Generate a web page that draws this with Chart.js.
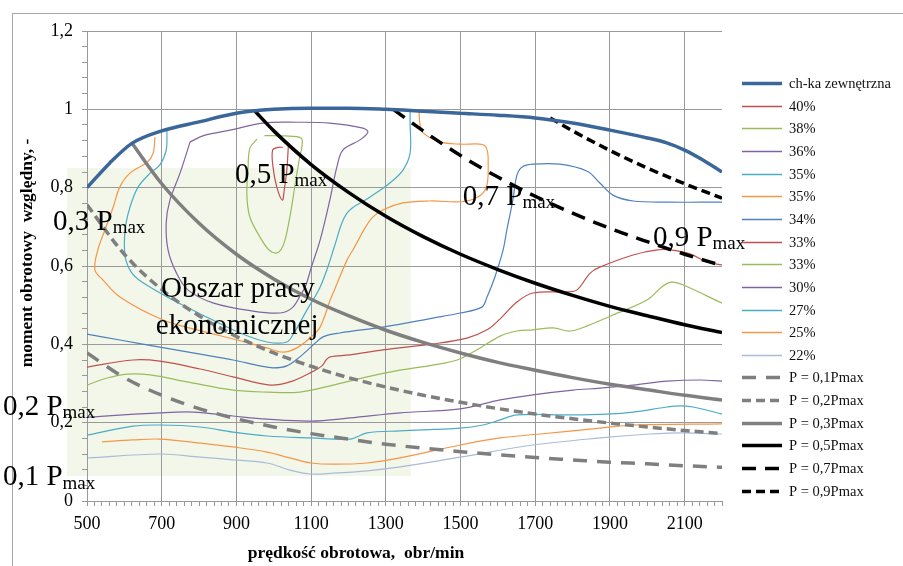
<!DOCTYPE html>
<html lang="pl">
<head>
<meta charset="utf-8">
<title>Mapa sprawności silnika</title>
<script src="https://cdn.jsdelivr.net/npm/chart.js@4.4.1/dist/chart.umd.min.js"></script>
<style>
  html, body { margin: 0; padding: 0; background: #fff; overflow: hidden; }
  #wrap { position: relative; width: 903px; height: 566px; }
</style>
</head>
<body>
<div id="wrap"><canvas id="mapa"></canvas></div>
<script>
// --- dane: prędkość obrotowa [obr/min], moment względny [-] ---
const nazwySerii = ['ch-ka zewnętrzna', '40%', '38%', '36%', '35%', '35%', '34%', '33%', '33%', '30%', '27%', '25%', '22%',
  'P = 0,1Pmax', 'P = 0,2Pmax', 'P = 0,3Pmax', 'P = 0,5Pmax', 'P = 0,7Pmax', 'P = 0,9Pmax'];

const chkaZewnetrzna = [[500, 0.80], [560, 0.862], [620, 0.913], [700, 0.945], [800, 0.968], [900, 0.99], [1000, 1.0], [1100, 1.003],
  [1200, 1.003], [1300, 1.0], [1400, 0.995], [1500, 0.99], [1600, 0.985], [1700, 0.978], [1800, 0.965], [1900, 0.947],
  [2000, 0.927], [2050, 0.915], [2100, 0.896], [2150, 0.87], [2200, 0.84]];

const iso40 = [[1024, 0.903], [1012, 0.903], [997, 0.896], [998, 0.853], [1008, 0.802], [1023, 0.768], [1028, 0.794], [1035, 0.845], [1039, 0.906]];

const iso38 = [[975, 0.933], [1030, 0.932], [1073, 0.927], [1076, 0.909], [1068, 0.871], [1057, 0.807], [1044, 0.73], [1030, 0.666],
  [1019, 0.641], [1006, 0.633], [987, 0.641], [963, 0.674], [936, 0.725], [928, 0.781], [931, 0.845], [936, 0.901], [955, 0.924]];

const iso36 = [[776, 0.917], [816, 0.934], [883, 0.947], [971, 0.965], [1062, 0.967], [1150, 0.965], [1239, 0.952], [1252, 0.942],
  [1231, 0.922], [1185, 0.896], [1169, 0.853], [1150, 0.768], [1124, 0.666], [1100, 0.595], [1086, 0.551], [1070, 0.523],
  [1049, 0.493], [1017, 0.48], [944, 0.485], [837, 0.506], [770, 0.539], [738, 0.585], [717, 0.641], [712, 0.71], [722, 0.768],
  [749, 0.837], [776, 0.917]];

const iso35a = [[714, 0.947], [712, 0.896], [695, 0.858], [669, 0.837], [637, 0.802], [615, 0.75], [602, 0.692], [602, 0.625],
  [618, 0.585], [647, 0.559], [730, 0.513], [837, 0.462], [910, 0.429], [982, 0.406], [1035, 0.406], [1054, 0.429], [1089, 0.488],
  [1124, 0.546], [1151, 0.615], [1161, 0.646], [1196, 0.735], [1258, 0.776], [1311, 0.812], [1346, 0.845], [1365, 0.888],
  [1365, 0.965], [1365, 0.998]];

const iso35b = [[682, 0.929], [677, 0.888], [661, 0.865], [615, 0.837], [588, 0.802], [570, 0.75], [548, 0.692], [529, 0.641],
  [521, 0.59], [543, 0.564], [588, 0.521], [704, 0.462], [795, 0.437], [902, 0.411], [982, 0.391], [1025, 0.38], [1062, 0.391],
  [1097, 0.416], [1124, 0.444], [1151, 0.513], [1159, 0.531], [1196, 0.615], [1212, 0.641], [1258, 0.717], [1292, 0.743],
  [1346, 0.761], [1418, 0.766], [1517, 0.766], [1566, 0.794], [1574, 0.871], [1568, 0.904], [1552, 0.911], [1499, 0.911],
  [1445, 0.917], [1400, 0.94], [1391, 0.965], [1389, 0.998]];

const iso34 = [[500, 0.426], [588, 0.411], [695, 0.393], [803, 0.375], [891, 0.36], [963, 0.345], [998, 0.34], [1035, 0.345],
  [1070, 0.368], [1105, 0.398], [1132, 0.419], [1177, 0.429], [1292, 0.444], [1426, 0.467], [1499, 0.48], [1557, 0.495],
  [1571, 0.521], [1592, 0.572], [1614, 0.641], [1624, 0.692], [1640, 0.768], [1651, 0.832], [1665, 0.853], [1694, 0.86],
  [1766, 0.86], [1839, 0.842], [1873, 0.812], [1908, 0.781], [1962, 0.766], [2053, 0.763], [2200, 0.763]];

const iso33a = [[500, 0.342], [623, 0.36], [695, 0.357], [803, 0.337], [891, 0.317], [990, 0.296], [1043, 0.304], [1097, 0.327],
  [1129, 0.345], [1140, 0.36], [1151, 0.368], [1204, 0.373], [1292, 0.386], [1426, 0.401], [1517, 0.416], [1571, 0.437],
  [1606, 0.465], [1651, 0.508], [1694, 0.531], [1785, 0.534], [1812, 0.539], [1847, 0.582], [1873, 0.597], [1962, 0.628],
  [2026, 0.641], [2061, 0.641], [2114, 0.631], [2160, 0.61], [2200, 0.603]];

const iso33b = [[500, 0.296], [554, 0.314], [607, 0.324], [669, 0.322], [768, 0.304], [891, 0.283], [982, 0.278], [1070, 0.278],
  [1159, 0.296], [1250, 0.317], [1338, 0.334], [1426, 0.347], [1491, 0.36], [1544, 0.386], [1606, 0.421], [1651, 0.434],
  [1694, 0.437], [1748, 0.442], [1793, 0.434], [1839, 0.447], [1908, 0.475], [1999, 0.513], [2042, 0.549], [2066, 0.559],
  [2098, 0.551], [2200, 0.505]];

const iso30 = [[500, 0.214], [695, 0.225], [784, 0.227], [891, 0.217], [982, 0.209], [1100, 0.204], [1204, 0.212], [1338, 0.225],
  [1499, 0.235], [1606, 0.258], [1694, 0.271], [1801, 0.283], [1873, 0.288], [1962, 0.296], [2053, 0.306], [2141, 0.309], [2200, 0.306]];

const iso27 = [[500, 0.168], [623, 0.191], [695, 0.194], [803, 0.189], [891, 0.176], [982, 0.166], [1100, 0.161], [1204, 0.158],
  [1250, 0.174], [1338, 0.179], [1499, 0.186], [1560, 0.194], [1606, 0.207], [1651, 0.22], [1785, 0.22], [1892, 0.222],
  [1962, 0.227], [2053, 0.24], [2088, 0.243], [2122, 0.24], [2200, 0.222]];

const iso25 = [[540, 0.151], [623, 0.156], [695, 0.158], [803, 0.148], [891, 0.138], [982, 0.125], [1043, 0.11], [1100, 0.097],
  [1159, 0.094], [1250, 0.097], [1338, 0.11], [1499, 0.143], [1606, 0.161], [1713, 0.171], [1873, 0.186], [1962, 0.194], [2200, 0.197]];

const iso22 = [[503, 0.11], [695, 0.12], [803, 0.112], [891, 0.105], [982, 0.097], [1043, 0.079], [1100, 0.069], [1159, 0.071],
  [1250, 0.077], [1338, 0.087], [1499, 0.112], [1694, 0.143], [1873, 0.161], [2007, 0.171], [2096, 0.174], [2200, 0.171]];

const moc01 = [[500, 0.378], [600, 0.315], [700, 0.27], [800, 0.236], [900, 0.21], [1000, 0.189], [1100, 0.172], [1200, 0.158],
  [1300, 0.145], [1400, 0.135], [1500, 0.126], [1600, 0.118], [1700, 0.111], [1800, 0.105], [1900, 0.099], [2000, 0.095],
  [2100, 0.09], [2200, 0.086]];
const moc02 = [[500, 0.756], [600, 0.63], [700, 0.54], [800, 0.473], [900, 0.42], [1000, 0.378], [1100, 0.344], [1200, 0.315],
  [1300, 0.291], [1400, 0.27], [1500, 0.252], [1600, 0.236], [1700, 0.222], [1800, 0.21], [1900, 0.199], [2000, 0.189],
  [2100, 0.18], [2200, 0.172]];
const moc03 = [[620, 0.914], [700, 0.81], [800, 0.709], [900, 0.63], [1000, 0.567], [1100, 0.515], [1200, 0.473], [1300, 0.436],
  [1400, 0.405], [1500, 0.378], [1600, 0.354], [1700, 0.334], [1800, 0.315], [1900, 0.298], [2000, 0.284], [2100, 0.27], [2200, 0.258]];
const moc05 = [[950, 0.995], [1000, 0.945], [1100, 0.859], [1200, 0.788], [1300, 0.727], [1400, 0.675], [1500, 0.63], [1600, 0.591],
  [1700, 0.556], [1800, 0.525], [1900, 0.497], [2000, 0.473], [2100, 0.45], [2200, 0.43]];
const moc07 = [[1320, 1.0], [1400, 0.945], [1500, 0.882], [1600, 0.827], [1700, 0.778], [1800, 0.735], [1900, 0.696], [2000, 0.662],
  [2100, 0.63], [2200, 0.601]];
const moc09 = [[1740, 0.978], [1800, 0.945], [1900, 0.895], [2000, 0.85], [2100, 0.81], [2200, 0.773]];

const serie = [chkaZewnetrzna, iso40, iso38, iso36, iso35a, iso35b, iso34, iso33a, iso33b, iso30, iso27, iso25, iso22,
  moc01, moc02, moc03, moc05, moc07, moc09];

// opisy linii stałej mocy i obszaru
const opisyMocy = ['0,5 P', '0,3 P', '0,7 P', '0,9 P', '0,2 P', '0,1 P'];
const opisObszaru = ['Obszar pracy', 'ekonomicznej'];
const obszarObroty = [446, 1367];
const obszarMoment = [0.064, 0.85];

// --- wygląd ---
const FONT = '"Liberation Serif", "Times New Roman", serif';
const SIATKA = '#9a9a9a';
const kolory = ['#3a6699', '#c0504d', '#9bbb59', '#8064a2', '#4bacc6', '#f79646', '#4f81bd', '#c0504d', '#9bbb59', '#8064a2',
  '#4bacc6', '#f79646', '#a9bbd9', '#7f7f7f', '#7f7f7f', '#7f7f7f', '#000000', '#000000', '#000000'];
const kreski = { 13: [14, 10], 14: [9, 5], 17: [14, 9], 18: [9, 5] };
// lewy dolny róg tekstu opisu (obroty, moment)
const polozenieOpisow = [[896, 0.812], [409, 0.692], [1506, 0.757], [2015, 0.652], [275, 0.2196], [275, 0.0408]];

const jestLiniaMocy = i => i >= 13;
const jestIzolinia = i => i >= 1 && i <= 12;

const datasets = serie.map((s, i) => ({
  label: nazwySerii[i],
  data: s.map(([x, y]) => ({ x, y })),
  showLine: true,
  fill: false,
  borderColor: kolory[i],
  backgroundColor: kolory[i],
  borderWidth: jestIzolinia(i) ? 1.2 : 3.5,
  borderDash: kreski[i] || [],
  borderCapStyle: 'butt',
  pointRadius: 0,
  pointHoverRadius: 0,
  tension: jestIzolinia(i) ? 0.35 : 0,
  cubicInterpolationMode: jestIzolinia(i) ? 'default' : 'monotone',
  order: i === 0 ? 0 : (jestLiniaMocy(i) ? 1 : 2)
}));

const glowny = (v, krok) => Math.abs(v / krok - Math.round(v / krok)) < 1e-6;
const glownyX = v => glowny(v - 500, 200) && v < 2200;

// tło: ramka wykresu i zielony obszar pracy ekonomicznej
const tloPlugin = {
  id: 'tlo',
  beforeDraw(chart) {
    const { ctx, scales: { x, y } } = chart;
    ctx.save();
    ctx.strokeStyle = '#a8a8a8';
    ctx.lineWidth = 1;
    ctx.strokeRect(12.5, 13.5, chart.width + 10, chart.height + 10);
    const x0 = x.getPixelForValue(obszarObroty[0]), x1 = x.getPixelForValue(obszarObroty[1]);
    const y0 = y.getPixelForValue(obszarMoment[1]), y1 = y.getPixelForValue(obszarMoment[0]);
    ctx.fillStyle = '#f2f7ea';
    ctx.fillRect(x0, y0, x1 - x0, y1 - y0);
    ctx.restore();
  }
};

// opisy na polu wykresu
const opisyPlugin = {
  id: 'opisy',
  afterDatasetsDraw(chart) {
    const { ctx, scales: { x, y } } = chart;
    ctx.save();
    ctx.fillStyle = '#000';
    ctx.textBaseline = 'alphabetic';
    ctx.textAlign = 'left';
    opisyMocy.forEach((txt, i) => {
      const px = x.getPixelForValue(polozenieOpisow[i][0]);
      const py = y.getPixelForValue(polozenieOpisow[i][1]);
      ctx.font = '29px ' + FONT;
      ctx.fillText(txt, px, py);
      const w = ctx.measureText(txt).width;
      ctx.font = '19px ' + FONT;
      ctx.fillText('max', px + w, py + 3.5);
    });
    ctx.font = '29px ' + FONT;
    ctx.textAlign = 'center';
    ctx.fillText(opisObszaru[0], x.getPixelForValue(904), y.getPixelForValue(0.521));
    ctx.fillText(opisObszaru[1], x.getPixelForValue(902), y.getPixelForValue(0.426));
    ctx.restore();
  }
};

// tytuły osi i legenda po prawej stronie
const opisOsiPlugin = {
  id: 'opisOsi',
  afterDraw(chart) {
    const { ctx, chartArea } = chart;
    ctx.save();
    ctx.fillStyle = '#000';
    ctx.font = 'bold 17.5px ' + FONT;
    ctx.textAlign = 'center';
    ctx.textBaseline = 'middle';
    ctx.fillText('prędkość obrotowa,  obr/min', 356, 553);
    ctx.translate(27, 253);
    ctx.rotate(-Math.PI / 2);
    ctx.fillText('moment obrotowy  względny, -', 0, 0);
    ctx.restore();

    ctx.save();
    const lx = chartArea.right + 20;
    ctx.font = '14.5px ' + FONT;
    ctx.textAlign = 'left';
    ctx.textBaseline = 'middle';
    chart.data.datasets.forEach((ds, i) => {
      const ly = Math.round(83 + i * 22.65) + 0.5;
      ctx.beginPath();
      ctx.strokeStyle = ds.borderColor;
      ctx.lineWidth = ds.borderWidth < 2 ? 1.5 : 3.5;
      ctx.setLineDash(ds.borderDash);
      ctx.moveTo(lx, ly);
      ctx.lineTo(lx + 40, ly);
      ctx.stroke();
      ctx.setLineDash([]);
      ctx.fillStyle = '#111';
      ctx.fillText(ds.label, lx + 47, ly + 1);
    });
    ctx.restore();
  }
};

new Chart(document.getElementById('mapa'), {
  type: 'scatter',
  data: { datasets },
  options: {
    responsive: true,
    maintainAspectRatio: false,
    animation: false,
    layout: { padding: { left: 37, right: 181, top: 31, bottom: 35 } },
    plugins: { legend: { display: false }, tooltip: { enabled: false } },
    scales: {
      x: {
        type: 'linear',
        min: 500,
        max: 2200,
        afterFit: s => { s.height = 30; },
        border: { color: SIATKA, width: 1 },
        grid: {
          color: c => glownyX(c.tick.value) ? SIATKA : 'rgba(0,0,0,0)',
          tickColor: SIATKA,
          tickLength: 5,
          lineWidth: 1
        },
        ticks: {
          stepSize: 20,
          autoSkip: false,
          maxRotation: 0,
          minRotation: 0,
          padding: 7,
          color: '#000',
          font: { family: FONT, size: 18 },
          callback: v => glownyX(v) ? String(v) : ''
        }
      },
      y: {
        min: 0,
        max: 1.2,
        afterFit: s => { s.width = 50; },
        border: { color: SIATKA, width: 1 },
        grid: {
          color: c => glowny(c.tick.value, 0.2) ? SIATKA : 'rgba(0,0,0,0)',
          tickColor: SIATKA,
          tickLength: 5,
          lineWidth: 1
        },
        ticks: {
          stepSize: 0.04,
          autoSkip: false,
          padding: 9,
          color: '#000',
          font: { family: FONT, size: 18 },
          callback: v => glowny(v, 0.2) ? String(Math.round(v * 10) / 10).replace('.', ',') : ''
        }
      }
    }
  },
  plugins: [tloPlugin, opisyPlugin, opisOsiPlugin]
});
</script>
</body>
</html>
